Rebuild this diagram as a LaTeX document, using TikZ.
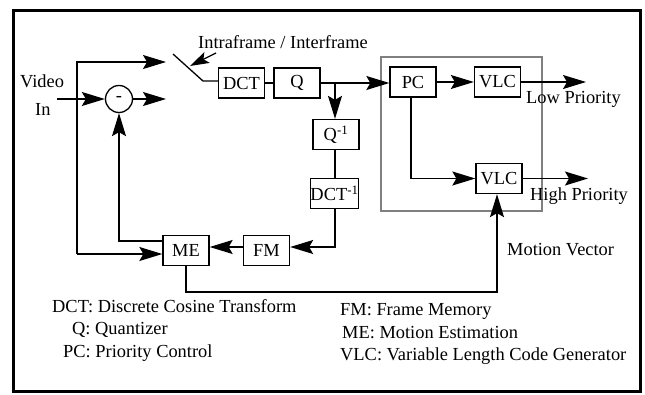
\documentclass[tikz,border=0pt]{standalone}
\usepackage{fontspec}
\setmainfont{Liberation Serif}
\usetikzlibrary{arrows.meta}
\begin{document}
\begin{tikzpicture}[x=1pt,y=-1pt,
  font=\fontsize{18.4}{22}\selectfont,
  wire/.style={line width=1.3pt},
  arr/.style={wire,-{Stealth[length=23pt,width=14pt,inset=4pt]}},
  blk/.style={draw,line width=1.3pt,inner sep=0pt,minimum width=46pt,minimum height=30pt},
  lbl/.style={inner sep=0pt,anchor=base west}]
\useasboundingbox (0,0) rectangle (645,394);
% outer frame
\draw[line width=3pt] (13,10) rectangle (640,391);
% priority control group
\draw[line width=1.3pt,gray] (381,57) rectangle (542,211);

% blocks
\node[blk] (dct) at (241.5,83) {DCT};
\node[blk] (q)   at (297,83) {Q};
\node[blk] (pc)  at (413,82) {PC};
\node[blk] (vlc1) at (497.5,82) {VLC};
\node[blk] (vlc2) at (499,178.5) {VLC};
\node[blk] (qi)  at (336,134.5) {Q\textsuperscript{-1}};
\node[blk,minimum width=45pt] (dcti) at (334.5,193.5) {DCT\textsuperscript{-1}};
\node[blk] (fm)  at (266.5,250.5) {FM};
\node[blk] (me)  at (186,250.5) {ME};
\node[draw,circle,line width=1.3pt,minimum size=27pt,inner sep=0pt] (sub) at (119,99) {-};

% text labels
\node[lbl] (tvideo) at (20,87) {Video};
\node[lbl] (tin) at (35,115) {In};
\node[lbl] (tsw) at (198,48) {Intraframe / Interframe};
\node[lbl] (tlow) at (526,103) {Low Priority};
\node[lbl] (thigh) at (530,200) {High Priority};
\node[lbl] (tmv) at (507,255) {Motion Vector};
\node[lbl] (l1) at (52,312) {DCT: Discrete Cosine Transform};
\node[lbl] (l2) at (72,334) {Q: Quantizer};
\node[lbl] (l3) at (63,357) {PC: Priority Control};
\node[lbl] (l4) at (340,315) {FM: Frame Memory};
\node[lbl] (l5) at (342,338) {ME: Motion Estimation};
\node[lbl] (l6) at (340,360) {VLC: Variable Length Code Generator};

% free ends and corners
\coordinate (vin) at (57,99);
\coordinate (jtop) at (77,62);
\coordinate (jbot) at (77,254);
\coordinate (intra) at (166,62);
\coordinate (inter) at (166,99);
\coordinate (swa) at (173,54);
\coordinate (swb) at (203,81);
\coordinate (ptail) at (216,53);
\coordinate (ptip) at (190,66);
\coordinate (qsplit) at (335,83);
\coordinate (lowout) at (586,82);
\coordinate (highout) at (588,178.5);

% input and loop
\draw[arr] (vin) -- (sub.west);
\draw[arr] (sub.east) -- (inter);
\draw[arr] (jbot) -- (jtop) -- (intra);
\draw[arr] (jbot) -- (me.west |- jbot);
\draw[arr] (me.west |- 0,241) -- (sub.south |- 0,241) -- (sub.south);

% switch
\draw[wire] (swa) -- (swb) -- (dct.west |- swb);
\draw[wire,-{Stealth[length=19pt,width=12pt,inset=4pt]}] (ptail) -- (ptip);

% forward path
\draw[wire] (dct) -- (q);
\draw[arr] (q.east) -- (pc.west |- q.east);
\draw[arr] (qsplit) -- (qi.north -| qsplit);
\draw[wire] (qi.south -| qsplit) -- (dcti.north -| qsplit);
\draw[arr] (dcti.south -| qsplit) -- (qsplit |- 0,247) -- (fm.east |- 0,247);
\draw[arr] (fm.west |- 0,247) -- (me.east |- 0,247);
\draw[arr] (pc) -- (vlc1);
\draw[arr] (pc.south -| 411,0) -- (411,178.5) -- (vlc2.west);
\draw[arr] (vlc1.east) -- (lowout);
\draw[arr] (vlc2.east) -- (highout);
\draw[arr] (me.south) -- (me.south |- 0,292) -- (497,292) -- (vlc2.south -| 497,0);
\end{tikzpicture}
\end{document}
